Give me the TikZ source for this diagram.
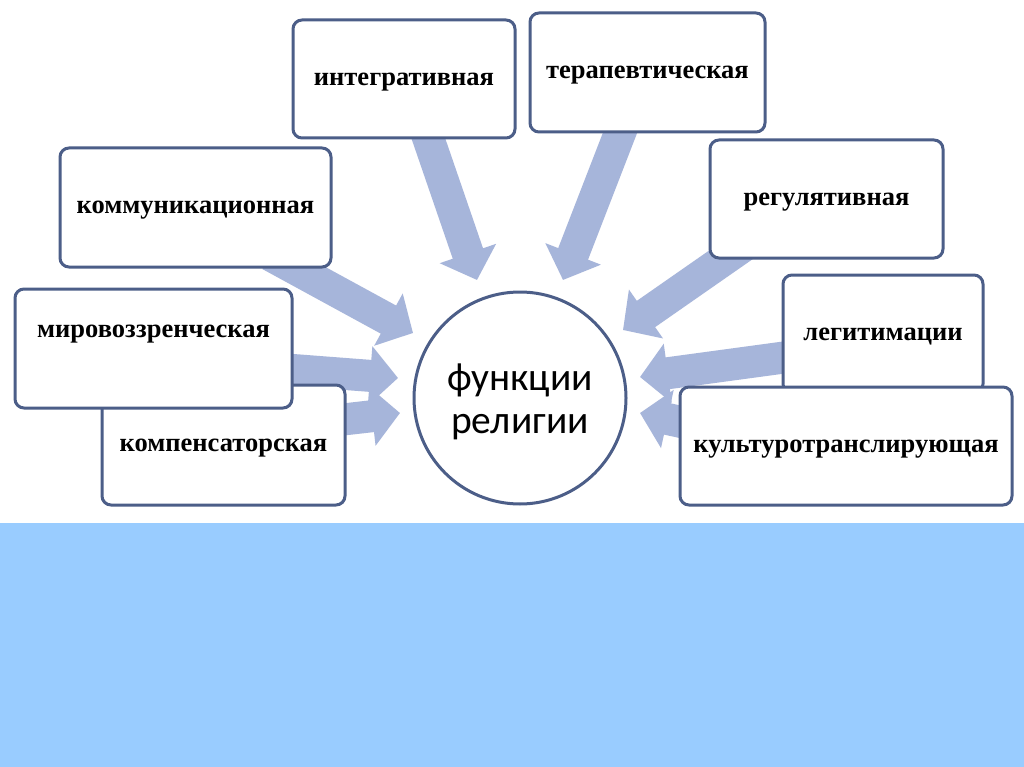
\documentclass[tikz,border=0pt]{standalone}
\usepackage{fontspec}
\setmainfont{Liberation Serif}
\newfontfamily\circfont{Carlito}
\usetikzlibrary{arrows.meta}
\definecolor{bluebg}{RGB}{153,204,255}
\definecolor{boxline}{RGB}{76,94,136}
\definecolor{arrowc}{RGB}{166,181,218}
\begin{document}
\begin{tikzpicture}[x=1pt,y=-1pt,
  boxfont/.style={font=\fontsize{26.5}{30}\selectfont\bfseries, text height=13pt, text depth=0pt},
  fbox/.style={draw=boxline, line width=3pt, fill=white, rounded corners=9pt,
    boxfont, inner sep=0pt},
  farrow/.style={draw=arrowc, line width=32pt, -{Triangle[width=58pt,length=28pt]}, fill=arrowc},
  hub/.style={circle, draw=boxline, line width=3pt, fill=white, minimum size=212pt, inner sep=0pt}]
\fill[white] (0,0) rectangle (1024,767);
\useasboundingbox (0,0) rectangle (1024,767);
\fill[bluebg] (0,523) rectangle (1024,767);
% arrow coordinates
\coordinate (s1) at (422,120); \coordinate (t1) at (477,280);
\coordinate (s2) at (625,120); \coordinate (t2) at (563,280);
\coordinate (s3) at (270,255); \coordinate (t3) at (413,333);
\coordinate (s4) at (280,369); \coordinate (t4) at (398,378);
\coordinate (s5) at (330,421); \coordinate (t5) at (400,413);
\coordinate (s6) at (745,245); \coordinate (t6) at (623,330);
\coordinate (s7) at (795,356); \coordinate (t7) at (640,377);
\coordinate (s8) at (695,425); \coordinate (t8) at (640,413);
\foreach \i in {1,...,8} { \draw[farrow] (s\i) -- (t\i); }
% hub
\node[hub] (c) at (520,398) {};
\node[font=\circfont\fontsize{39.5}{43}\selectfont, align=center, inner sep=0pt] (ct) at ([yshift=-4pt]c.center) {функции\\религии};
% boxes
\node[fbox, minimum width=222pt, minimum height=118pt] (int) at (404,79) {интегративная};
\node[fbox, minimum width=235pt, minimum height=119pt] (ter) at (647.5,72.5) {терапевтическая};
\node[fbox, minimum width=271pt, minimum height=119pt] (kom) at (195.5,207.5) {коммуникационная};
\node[fbox, minimum width=243pt, minimum height=120pt] (komp) at (223.5,445) {компенсаторская};
\node[fbox, minimum width=277pt, minimum height=119pt] (mir) at (153.5,348.5) {};
\node[boxfont, inner sep=0pt] (mirt) at ([yshift=18pt]mir.center) {мировоззренческая};
\node[fbox, minimum width=233pt, minimum height=118pt] (reg) at (826.5,199) {регулятивная};
\node[fbox, minimum width=200pt, minimum height=118pt] (leg) at (883,334) {легитимации};
\node[fbox, minimum width=332pt, minimum height=118pt] (kul) at (846,446) {культуротранслирующая};
\end{tikzpicture}
\end{document}
